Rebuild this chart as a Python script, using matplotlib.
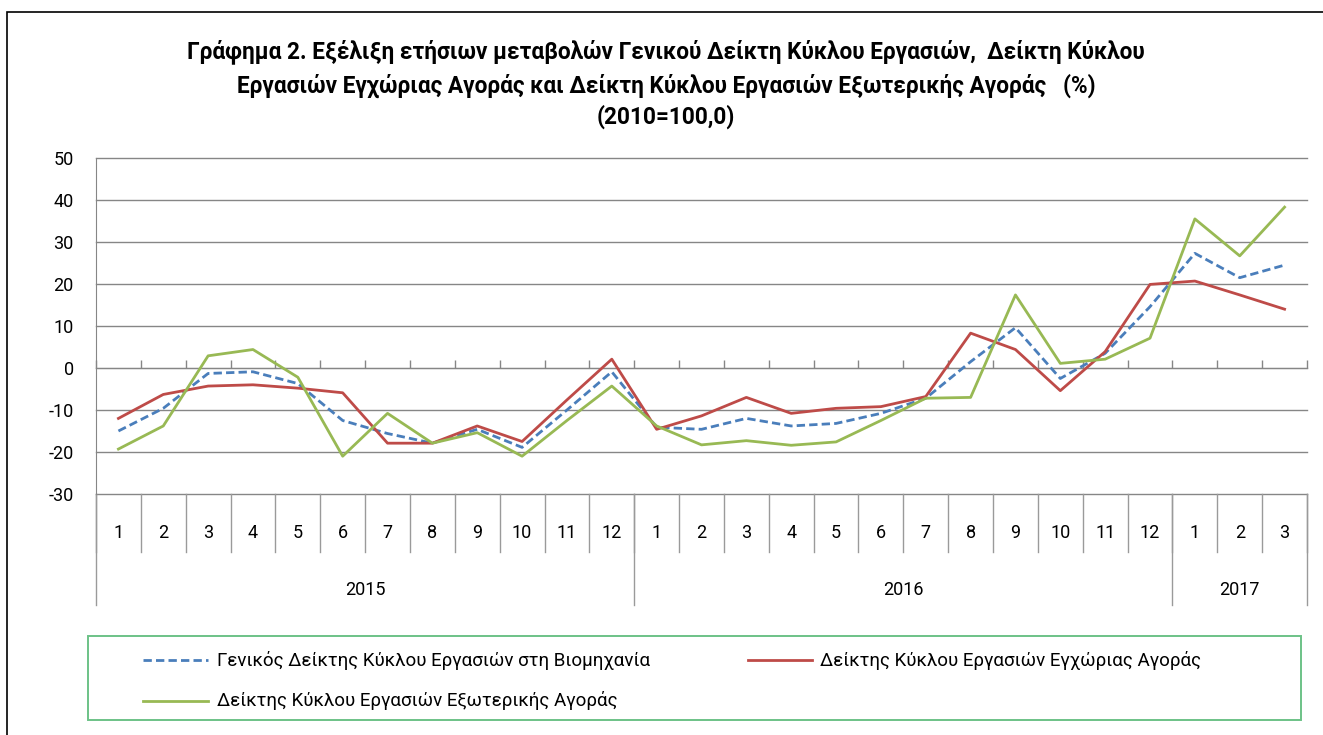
import numpy as np
import matplotlib
matplotlib.use("Agg")
import matplotlib.pyplot as plt
from matplotlib.lines import Line2D
from matplotlib.patches import Rectangle

plt.rcParams['font.family'] = ['Roboto', 'DejaVu Sans']
plt.rcParams['axes.unicode_minus'] = False

# Δεδομένα (ετήσιες μεταβολές %, 2010=100,0)
years = ['2015', '2016', '2017']
months_per_year = [12, 12, 3]
month_labels = [str(m) for m in range(1, 13)] * 2 + ['1', '2', '3']

general = [-15.0, -9.6, -1.3, -0.9, -3.7, -12.5, -15.6, -17.9, -14.6, -18.9, -10.0, -0.9,
           -14.1, -14.6, -12.0, -13.8, -13.2, -10.8, -7.2, 1.5, 9.6, -2.5, 3.5, 14.6,
           27.3, 21.5, 24.5]
domestic = [-12.0, -6.3, -4.3, -4.0, -4.8, -5.9, -17.9, -17.9, -13.8, -17.5, -7.6, 2.1,
            -14.6, -11.4, -7.0, -10.8, -9.6, -9.2, -6.8, 8.3, 4.4, -5.4, 3.9, 19.9,
            20.7, 17.4, 14.0]
external = [-19.3, -13.8, 2.9, 4.4, -2.2, -21.0, -10.8, -17.9, -15.4, -21.0, -12.5, -4.3,
            -13.8, -18.3, -17.3, -18.4, -17.6, -12.5, -7.2, -7.0, 17.4, 1.1, 2.1, 7.1,
            35.5, 26.7, 38.3]

labels = ['Γενικός Δείκτης Κύκλου Εργασιών στη Βιομηχανία',
          'Δείκτης Κύκλου Εργασιών Εγχώριας Αγοράς',
          'Δείκτης Κύκλου Εργασιών Εξωτερικής Αγοράς']
colors = ['#4A7EBB', '#BE4B48', '#98B954']

title_lines = ['Γράφημα 2. Εξέλιξη ετήσιων μεταβολών Γενικού Δείκτη Κύκλου Εργασιών,  Δείκτη Κύκλου',
               'Εργασιών Εγχώριας Αγοράς και Δείκτη Κύκλου Εργασιών Εξωτερικής Αγοράς   (%)',
               '(2010=100,0)']

W, H = 1323, 735
fig = plt.figure(figsize=(W / 100, H / 100), dpi=100)


def fx(px):
    return px / W


def fy(py):
    return 1 - py / H


# περίγραμμα γραφήματος
fig.patches.append(Rectangle((fx(7), fy(745)), fx(1330), fy(12) - fy(745),
                             transform=fig.transFigure, fill=False,
                             edgecolor='black', linewidth=1.2))

ax_top, ax_bot = 158, 494
ax = fig.add_axes([fx(96), fy(ax_bot), fx(1307) - fx(96), fy(ax_top) - fy(ax_bot)])

n = len(month_labels)
x = np.arange(n)
grey = '#868686'
fs = 13
lw = 2.0
dash = (3.0, 1.5)

ax.plot(x, general, color=colors[0], lw=lw, dashes=dash, zorder=3)
ax.plot(x, domestic, color=colors[1], lw=lw, zorder=4)
ax.plot(x, external, color=colors[2], lw=lw, zorder=5)

ax.set_xlim(-0.5, n - 0.5)
ax.set_ylim(-30, 50)
ax.set_yticks(np.arange(-30, 51, 10))
ax.yaxis.grid(True, color=grey, lw=1.0)
for gl in ax.get_ygridlines():
    gl.set_clip_on(False)
ax.set_axisbelow(True)

# οριζόντιος άξονας στο 0 με μικρές γραμμές υποδιαίρεσης
ax.spines['bottom'].set_position(('data', 0))
ax.spines['bottom'].set_color(grey)
ax.spines['left'].set_color(grey)
ax.spines['top'].set_visible(False)
ax.spines['right'].set_visible(False)
ax.set_xticks(np.arange(n + 1) - 0.5)
ax.set_xticklabels([])
ax.tick_params(axis='x', direction='in', length=6, color=grey, width=1)
ax.tick_params(axis='y', length=0, pad=16, labelsize=fs)

# ετικέτες κατηγοριών σε δύο επίπεδα
trans = ax.get_xaxis_transform()
axh = ax_bot - ax_top


def ay(py):
    return (ax_bot - py) / axh


sep_color = '#9a9a9a'
for b in np.arange(n + 1) - 0.5:
    ax.add_line(Line2D([b, b], [0, ay(552)], transform=trans, color=sep_color,
                       lw=1.0, clip_on=False))
for i, lab in enumerate(month_labels):
    ax.text(i, ay(533), lab, transform=trans, ha='center', va='center',
            fontsize=fs, clip_on=False)

starts = np.concatenate([[0], np.cumsum(months_per_year)])
for b in starts:
    ax.add_line(Line2D([b - 0.5, b - 0.5], [0, ay(605)], transform=trans,
                       color=sep_color, lw=1.0, clip_on=False))
for yr, s0, s1 in zip(years, starts[:-1], starts[1:]):
    ax.text((s0 + s1 - 1) / 2, ay(590), yr, transform=trans, ha='center',
            va='center', fontsize=fs, clip_on=False)

# τίτλος
for line, yy in zip(title_lines, [48.5, 83, 114.5]):
    fig.text(fx(666), fy(yy), line, ha='center', va='center_baseline',
             fontsize=16.3, fontweight='bold')

# υπόμνημα
fig.patches.append(Rectangle((fx(88), fy(720)), fx(1301) - fx(88), fy(636) - fy(720),
                             transform=fig.transFigure, fill=False,
                             edgecolor='#6CC287', linewidth=1.4))
entries = [(143, 208, 217, 660), (748, 812, 820, 660), (143, 208, 217, 701)]
for k, (x0, x1, tx, yy) in enumerate(entries):
    style = dict(color=colors[k], lw=lw)
    if k == 0:
        style['dashes'] = dash
    fig.add_artist(Line2D([fx(x0), fx(x1)], [fy(yy), fy(yy)],
                          transform=fig.transFigure, **style))
    fig.text(fx(tx), fy(yy), labels[k], ha='left', va='center', fontsize=13.5)

fig.savefig('out.png', dpi=100)
